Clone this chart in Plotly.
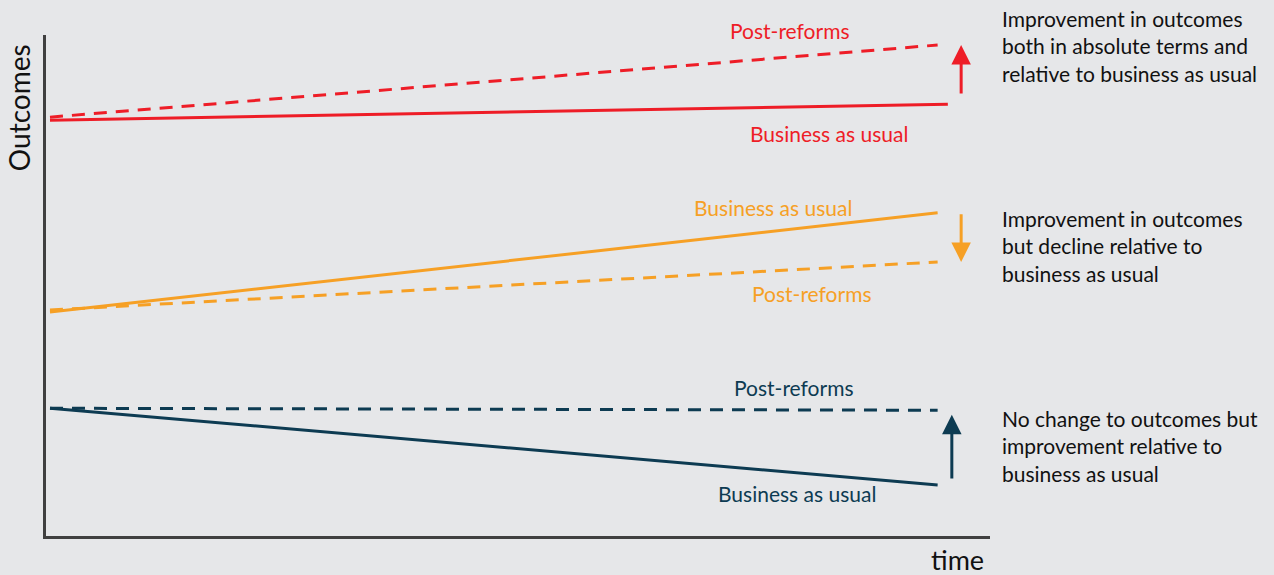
import plotly.graph_objects as go

# time points (start, end) and outcome levels for each scenario
time = [0, 10]
time_red_bau = [0, 10.115]

red_bau = [8.30, 8.62]
red_post = [8.36, 9.80]
orange_bau = [4.47, 6.45]
orange_post = [4.51, 5.47]
navy_bau = [2.55, 1.02]
navy_post = [2.55, 2.51]

# arrows (x, y_from, y_to)
arrow_x = [10.265, 10.265, 10.16]
arrow_from = [8.80, 6.45, 1.12]
arrow_to = [9.80, 5.47, 2.42]

notes = [
    "Improvement in outcomes<br>both in absolute terms and<br>relative to business as usual",
    "Improvement in outcomes<br>but decline relative to<br>business as usual",
    "No change to outcomes but<br>improvement relative to<br>business as usual",
]
note_y = [0.978, 0.579, 0.180]

RED = "#EE1D27"
ORANGE = "#F6A025"
NAVY = "#0D3B52"
FONT = "Lato"
FS = 21
DASH = "13px,9px"

fig = go.Figure()

series = [
    (time_red_bau, red_bau, RED, "solid"),
    (time, red_post, RED, DASH),
    (time, orange_bau, ORANGE, "solid"),
    (time, orange_post, ORANGE, DASH),
    (time, navy_bau, NAVY, "solid"),
    (time, navy_post, NAVY, DASH),
]
for x, y, c, d in series:
    fig.add_trace(go.Scatter(x=x, y=y, mode="lines",
                             line=dict(color=c, width=3, dash=d),
                             showlegend=False, hoverinfo="skip"))

ann = []
for x, y0, y1, c in zip(arrow_x, arrow_from, arrow_to, [RED, ORANGE, NAVY]):
    ann.append(dict(x=x, y=y1, ax=x, ay=y0, xref="x", yref="y", axref="x", ayref="y",
                    text="", showarrow=True, arrowhead=2, arrowsize=1.3,
                    arrowwidth=3, arrowcolor=c))

labels = [
    ("Business as usual", 8.78, 8.04, RED),
    ("Business as usual", 8.14, 6.55, ORANGE),
    ("Post-reforms", 8.59, 4.85, ORANGE),
    ("Post-reforms", 8.38, 2.97, NAVY),
    ("Business as usual", 8.42, 0.84, NAVY),
]
for t, x, y, c in labels:
    ann.append(dict(x=x, y=y, xref="x", yref="y", text=t, showarrow=False,
                    xanchor="center", yanchor="middle",
                    font=dict(family=FONT, size=FS, color=c)))

# labels sitting outside the plotting area
ann.append(dict(x=0.788, y=1.008, xref="paper", yref="paper", text="Post-reforms",
                xanchor="center", yanchor="middle", showarrow=False,
                font=dict(family=FONT, size=FS, color=RED)))

for t, y in zip(notes, note_y):
    ann.append(dict(x=1.0105, y=y, xref="paper", yref="paper", text=t, showarrow=False,
                    xanchor="left", yanchor="middle", align="left",
                    font=dict(family=FONT, size=FS, color="#111111")))

ann.append(dict(x=-0.0286, y=0.854, xref="paper", yref="paper", text="Outcomes",
                textangle=-90, xanchor="center", yanchor="middle", showarrow=False,
                font=dict(family=FONT, size=28, color="#111111")))
ann.append(dict(x=0.966, y=-0.047, xref="paper", yref="paper", text="time",
                xanchor="center", yanchor="middle", showarrow=False,
                font=dict(family=FONT, size=27, color="#111111")))

fig.update_layout(
    width=1274, height=575,
    margin=dict(l=46, r=284, t=35, b=39),
    paper_bgcolor="#E6E7E9", plot_bgcolor="#E6E7E9",
    annotations=ann,
    xaxis=dict(range=[-0.045, 10.59], showgrid=False, zeroline=False,
               showticklabels=False, ticks="", showline=True,
               linecolor="#404040", linewidth=3),
    yaxis=dict(range=[0, 10], showgrid=False, zeroline=False,
               showticklabels=False, ticks="", showline=True,
               linecolor="#404040", linewidth=3),
)

fig.write_html("out.html", config={"displayModeBar": False},
               post_script="document.body.style.margin='0px';")
